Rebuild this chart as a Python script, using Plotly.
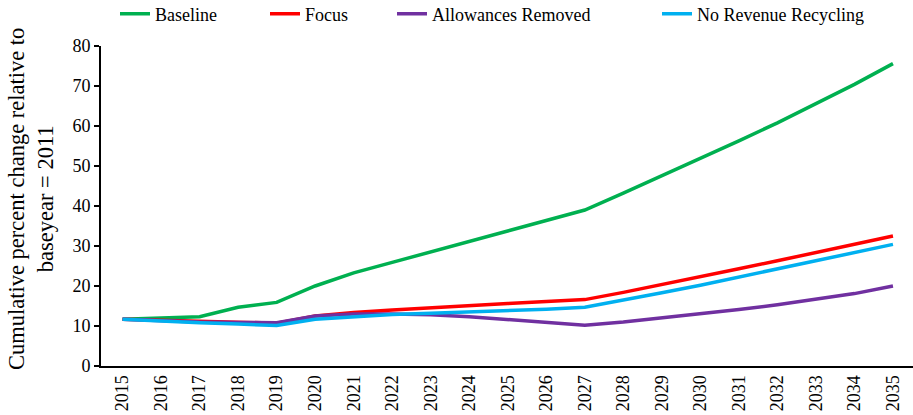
import plotly.graph_objects as go

years = [str(y) for y in range(2015, 2036)]

baseline = [11.7, 12.0, 12.3, 14.7, 15.9, 20.0, 23.3, 25.9, 28.5, 31.1, 33.7,
            36.3, 39.0, 43.2, 47.5, 51.9, 56.3, 60.8, 65.5, 70.4, 75.6]
focus = [11.7, 11.4, 11.1, 11.0, 10.7, 12.5, 13.4, 14.0, 14.6, 15.1, 15.6,
         16.1, 16.6, 18.4, 20.3, 22.3, 24.3, 26.3, 28.3, 30.4, 32.5]
allowances_removed = [11.7, 11.3, 11.0, 10.9, 10.8, 12.5, 13.0, 13.0, 12.8, 12.3, 11.6,
                      10.9, 10.2, 11.0, 12.0, 13.0, 14.1, 15.3, 16.6, 18.1, 20.0]
no_revenue_recycling = [11.7, 11.2, 10.8, 10.5, 10.1, 11.7, 12.4, 12.9, 13.2, 13.5, 13.8,
                        14.2, 14.7, 16.4, 18.3, 20.2, 22.2, 24.2, 26.2, 28.3, 30.4]

series_names = ["Baseline", "Focus", "Allowances Removed", "No Revenue Recycling"]
series_values = [baseline, focus, allowances_removed, no_revenue_recycling]
colors = ["#00B050", "#FF0000", "#7030A0", "#00B0F0"]
legend_ids = ["legend", "legend2", "legend3", "legend4"]

y_ticks = [0, 10, 20, 30, 40, 50, 60, 70, 80]
y_title = "Cumulative percent change relative to<br>baseyear = 2011"

FONT = "Liberation Serif"

W, H = 913, 415
ML, MR, MT, MB = 101, 0, 46, 49
plot_w = W - ML - MR
plot_h = H - MT - MB

fig = go.Figure()
for name, vals, col, lg in zip(series_names, series_values, colors, legend_ids):
    fig.add_trace(go.Scatter(
        x=years, y=vals, mode="lines", name=name,
        line=dict(color=col, width=3.5),
        legend=lg, showlegend=True,
    ))

# legend text start positions (pixels) from the reference
text_px = [155, 305, 432, 697]
legend_cfg = {}
for lg, tx in zip(legend_ids, text_px):
    legend_cfg[lg] = dict(
        x=(tx - 40 - ML) / plot_w, xanchor="left",
        y=(H - MB - 14) / plot_h, yanchor="middle",
        orientation="h",
        font=dict(family=FONT, size=18, color="black"),
        bgcolor="rgba(0,0,0,0)",
        borderwidth=0,
    )

fig.update_layout(
    width=W, height=H,
    margin=dict(l=ML, r=MR, t=MT, b=MB, autoexpand=False),
    plot_bgcolor="white", paper_bgcolor="white",
    font=dict(family=FONT, color="black"),
    showlegend=True,
    **legend_cfg,
)

# y-axis title as a rotated annotation, centred where the reference has it
fig.add_annotation(
    text=y_title, textangle=-90, showarrow=False,
    xref="paper", yref="paper",
    x=(31 - ML) / plot_w, xanchor="center",
    y=(H - MB - 199) / plot_h, yanchor="middle",
    font=dict(family=FONT, size=22.5, color="black"),
)

fig.update_xaxes(
    type="category",
    range=[-0.56, 20.52],
    showline=True, linecolor="black", linewidth=2,
    showgrid=False, zeroline=False,
    ticks="", tickangle=-90,
    tickfont=dict(family=FONT, size=18, color="black"),
)
fig.update_yaxes(
    range=[0, 80],
    tickvals=y_ticks,
    showline=True, linecolor="black", linewidth=2,
    showgrid=False, zeroline=False,
    ticks="outside", ticklen=5, tickwidth=2, tickcolor="black",
    tickfont=dict(family=FONT, size=18, color="black"),
)

# remove the page's default body margin so the figure fills the window exactly
fig.write_html(
    "out.html",
    config={"displayModeBar": False},
    post_script="document.body.style.margin='0';document.body.style.overflow='hidden';",
)
